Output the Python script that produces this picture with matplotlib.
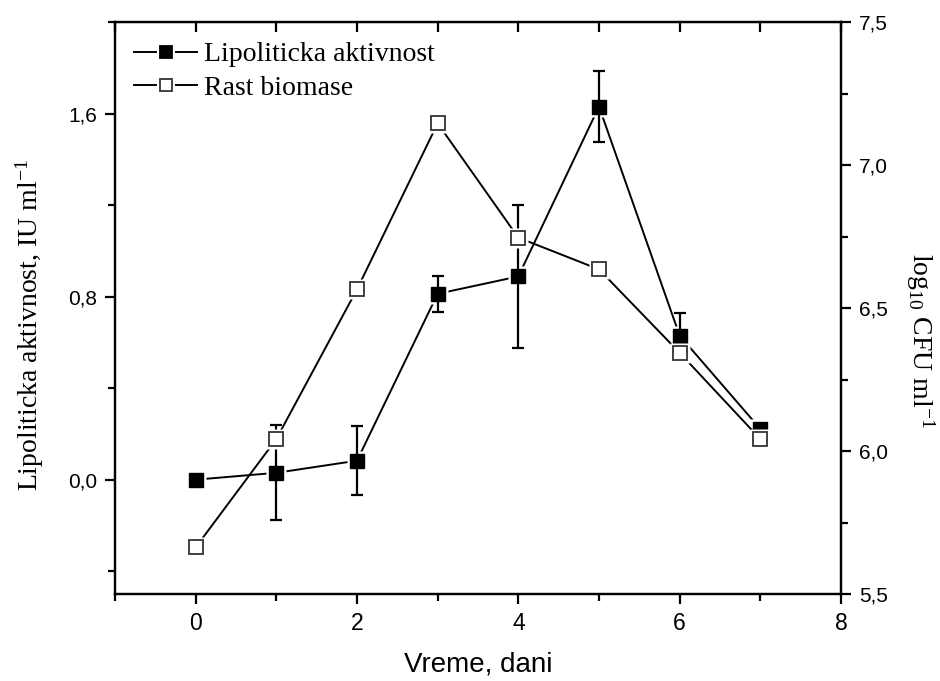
import matplotlib
matplotlib.use("Agg")
import matplotlib.pyplot as plt
from matplotlib.ticker import MultipleLocator, FuncFormatter
from matplotlib.legend_handler import HandlerBase
from matplotlib.lines import Line2D

days = [0, 1, 2, 3, 4, 5, 6, 7]
lipolytic = [0.00, 0.03, 0.083, 0.813, 0.889, 1.632, 0.630, 0.222]
lipolytic_err = [0.0, 0.208, 0.15, 0.079, 0.313, 0.156, 0.099, 0.0]
biomass = [5.663, 6.042, 6.566, 7.147, 6.747, 6.636, 6.344, 6.042]

label_lip = "Lipoliticka aktivnost"
label_bio = "Rast biomase"
xlabel = "Vreme, dani"
ylabel_left = r"Lipoliticka aktivnost, IU ml$^{\mathregular{-1}}$"
ylabel_right = r"log$_{\mathregular{10}}$ CFU ml$^{\mathregular{-1}}$"

plt.rcParams['mathtext.fontset'] = 'custom'
plt.rcParams['mathtext.rm'] = 'Liberation Serif'
plt.rcParams['mathtext.it'] = 'Liberation Serif:italic'
plt.rcParams['font.family'] = ['Liberation Sans', 'DejaVu Sans']


class GapHandler(HandlerBase):
    def create_artists(self, legend, orig_handle, xdescent, ydescent,
                       width, height, fontsize, trans):
        y = height / 2 - ydescent
        x0 = -xdescent
        a = Line2D([x0, x0 + width * 0.34], [y, y], color='black', lw=1.4)
        b = Line2D([x0 + width * 0.66, x0 + width], [y, y], color='black', lw=1.4)
        m = Line2D([x0 + width / 2], [y], ls='none', marker='s', markersize=8.5,
                   mfc=orig_handle.get_markerfacecolor(),
                   mec=orig_handle.get_markeredgecolor(), mew=1.3)
        for art in (a, b, m):
            art.set_transform(trans)
        return [a, b, m]


fig = plt.figure(figsize=(9.40, 6.81), dpi=100)
ax = fig.add_axes([0.1223, 0.1278, 0.7724, 0.8392])
ax2 = ax.twinx()

comma = FuncFormatter(lambda v, p: f"{v:.1f}".replace(".", ","))
intfmt = FuncFormatter(lambda v, p: f"{v:.0f}")

MS = 9.5
HALO = 14.0

# Lipolytic activity (left axis)
ax.plot(days, lipolytic, color='black', lw=1.4, zorder=2)
ax.plot(days, lipolytic, ls='none', marker='s', markersize=HALO, mfc='white',
        mec='none', zorder=2.1)
ax.errorbar(days, lipolytic, yerr=lipolytic_err, fmt='none', ecolor='black',
            elinewidth=1.6, capsize=4.5, capthick=1.6, zorder=2.2)
ax.plot(days, lipolytic, ls='none', marker='s', markersize=MS, mfc='black',
        mec='black', zorder=3)

# Biomass (right axis)
ax2.plot(days, biomass, color='black', lw=1.4, zorder=2)
ax2.plot(days, biomass, ls='none', marker='s', markersize=HALO, mfc='white',
         mec='none', zorder=2.1)
ax2.plot(days, biomass, ls='none', marker='s', markersize=MS, mfc='white',
         mec='#333333', mew=1.3, zorder=3)

h1 = Line2D([], [], color='black', marker='s', mfc='black', mec='black')
h2 = Line2D([], [], color='black', marker='s', mfc='white', mec='#333333')

ax.set_xlim(-1, 8)
ax.set_ylim(-0.5, 2.0)
ax2.set_ylim(5.5, 7.5)

ax.xaxis.set_major_locator(MultipleLocator(2))
ax.xaxis.set_minor_locator(MultipleLocator(1))
ax.yaxis.set_major_locator(MultipleLocator(0.8))
ax.yaxis.set_minor_locator(MultipleLocator(0.4))
ax2.yaxis.set_major_locator(MultipleLocator(0.5))
ax2.yaxis.set_minor_locator(MultipleLocator(0.25))
ax.yaxis.set_major_formatter(comma)
ax2.yaxis.set_major_formatter(comma)
ax.xaxis.set_major_formatter(intfmt)

ax.tick_params(axis='x', which='both', direction='out', top=False, labelsize=16.5, pad=6)
ax.tick_params(axis='x', which='major', length=7, width=1.6)
ax.tick_params(axis='x', which='minor', length=5, width=1.6)
ax.tick_params(axis='y', which='major', direction='out', length=7, width=1.6, labelsize=15, pad=6)
ax.tick_params(axis='y', which='minor', direction='out', length=5, width=1.6)
ax2.tick_params(axis='y', which='major', direction='out', length=7, width=1.6, labelsize=15, pad=6)
ax2.tick_params(axis='y', which='minor', direction='out', length=5, width=1.6)

axt = ax.secondary_xaxis('top')
axt.xaxis.set_major_locator(MultipleLocator(1))
axt.tick_params(axis='x', direction='in', length=7, width=1.6, labeltop=False)

for a in (ax, ax2):
    for s in a.spines.values():
        s.set_linewidth(1.6)

ax.set_xlabel(xlabel, fontsize=20, labelpad=12)
ax.set_ylabel(ylabel_left, fontsize=20, family='Liberation Serif', va='center')
ax.yaxis.set_label_coords(-0.117, 0.471)
ax2.set_ylabel(ylabel_right, fontsize=20, family='Liberation Serif', rotation=270, va='center')
ax2.yaxis.set_label_coords(1.109, 0.444)

ax.legend([h1, h2], [label_lip, label_bio], loc='upper left', frameon=False,
          handler_map={Line2D: GapHandler()},
          prop={'family': 'Liberation Serif', 'size': 20}, handlelength=2.27,
          handletextpad=0.25, borderaxespad=0.25, borderpad=0.45, labelspacing=0.3)

fig.savefig("out.png", dpi=100)
